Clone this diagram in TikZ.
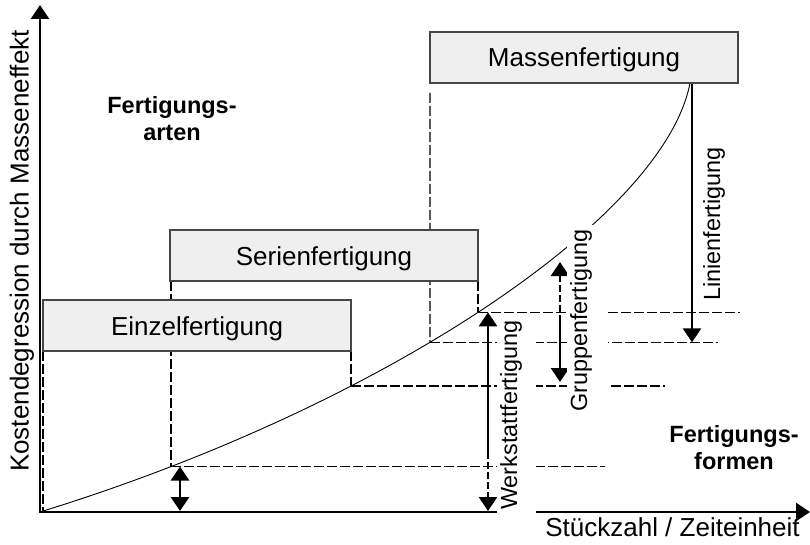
\documentclass[tikz,border=0pt]{standalone}
\usepackage{fontspec}
\setmainfont{Liberation Sans}
\usetikzlibrary{arrows.meta,intersections}
\definecolor{boxfill}{RGB}{239,239,239}
\definecolor{boxline}{RGB}{70,70,70}
\begin{document}
\begin{tikzpicture}[x=1pt,y=-1pt,
  >={Triangle[width=18pt,length=14pt]},
  axis/.style={line width=2.8pt,<->},
  dimarrow/.style={line width=2.8pt},
  guide/.style={line width=1.2pt,dash pattern=on 10pt off 3pt},
  kind/.style={draw=boxline,fill=boxfill,line width=1.2pt,minimum width=308pt,
    minimum height=51pt,inner sep=0pt,text height=19pt,text depth=0pt,
    font=\fontsize{26}{31}\selectfont},
  formlabel/.style={rotate=90,fill=white,inner xsep=5pt,inner ysep=3pt,
    text height=17pt,font=\fontsize{23.4}{28}\selectfont},
  plainrot/.style={rotate=90,inner sep=0pt,font=\fontsize{23.4}{28}\selectfont},
  axislabel/.style={inner sep=0pt,font=\fontsize{26}{31}\selectfont},
  heading/.style={inner sep=0pt,align=center,anchor=north,
    font=\bfseries\fontsize{23.5}{27}\selectfont}]
\useasboundingbox (0,0) rectangle (810,545);

% base points
\coordinate (O) at (40,512);
\coordinate (ytip) at (40,5);
\coordinate (xtip) at (810,512);
\coordinate (cE) at (690,83);

% cost curve (path only, drawn later)
\path[name path=curve] (O) .. controls (390,404) and (665,215) .. (cE);
\path[name path=v1] (171,0) -- (171,545);
\path[name path=v2] (351,0) -- (351,545);
\path[name path=v3] (430,0) -- (430,545);
\path[name path=v4] (478,0) -- (478,545);
\path[name intersections={of=curve and v1,by=c1}];
\path[name intersections={of=curve and v2,by=c2}];
\path[name intersections={of=curve and v3,by=c3}];
\path[name intersections={of=curve and v4,by=c4}];

\coordinate (m3) at (430,93);
\coordinate (h1) at (605,0);
\coordinate (h2) at (665,0);
\coordinate (h3) at (718,0);
\coordinate (h4) at (740,0);
\coordinate (topE) at (0,351);
\coordinate (topS) at (0,281);

% guide lines
\draw[guide] (43,351) -- (43,512);
\draw[guide] (c1 |- topS) -- (c1);
\draw[guide] (c2 |- topE) -- (c2);
\draw[guide] (m3) -- (c3);
\draw[guide] (c4 |- topS) -- (c4);
\draw[guide] (c1) -- (c1 -| h1);
\draw[guide] (c2) -- (c2 -| h2);
\draw[guide] (c3) -- (c3 -| h3);
\draw[guide] (c4) -- (c4 -| h4);

% curve
\draw[line width=0.9pt] (O) .. controls (390,404) and (665,215) .. (cE);

% boxes
\node[kind] (einzel) at (197,325.5) {Einzelfertigung};
\node[kind] (serien) at (324,255.5) {Serienfertigung};
\node[kind] (massen) at (584,57.5) {Massenfertigung};

% axes
\draw[axis] (ytip) |- (xtip);

% dimension arrows
\coordinate (ex) at (180,0);
\coordinate (e2) at (180,511);
\draw[dimarrow,<->] (c1 -| ex) -- (e2);

\coordinate (wx) at (488,0);
\coordinate (w2) at (488,452);
\coordinate (w3) at (488,511);
\draw[dimarrow,->] (w2) -- (c4 -| wx);
\draw[dimarrow,->,dash pattern=on 7pt off 3pt] (w2) -- (w3);

\coordinate (g1) at (560,262);
\coordinate (g2) at (560,322);
\coordinate (g3) at (560,382);
\draw[dimarrow,->,dash pattern=on 7pt off 3pt] (g2) -- (g1);
\draw[dimarrow,->] (g2) -- (g3);

\coordinate (lx) at (692,0);
\draw[dimarrow,->] (massen.south -| lx) -- (c3 -| lx);

% labels
\node[formlabel,text depth=16pt] (werkstatt) at (516.5,415) {Werkstattfertigung};
\node[formlabel,inner xsep=4.5pt,text depth=18pt] (gruppen) at (587.5,320.5) {Gruppenfertigung};
\node[plainrot] (linien) at (714,224) {Linienfertigung};

\node[axislabel,rotate=90] (ylab) at (22,251) {Kostendegression durch Masseneffekt};
\node[axislabel,anchor=base] (xlab) at (672.5,536) {Stückzahl / Zeiteinheit};

\node[heading] (arten) at (172,96) {Fertigungs-\\arten};
\node[heading] (formen) at (734,425) {Fertigungs-\\formen};
\end{tikzpicture}
\end{document}
